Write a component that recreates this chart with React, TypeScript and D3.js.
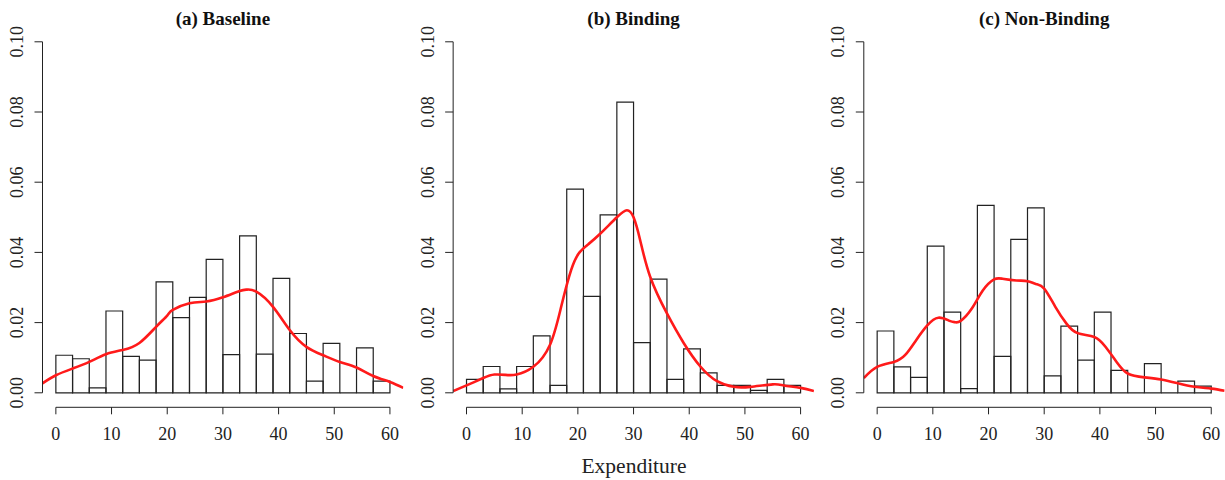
import React from 'react';
import * as d3 from 'd3';

// histogram bins: width 3, 0..60
const binStarts = d3.range(0, 60, 3);
const baselineHeights = [0.0107, 0.0097, 0.0014, 0.0233, 0.0104, 0.0093, 0.0316, 0.0214, 0.0272, 0.038,
  0.0109, 0.0447, 0.011, 0.0326, 0.0169, 0.0033, 0.0141, 0, 0.0128, 0.0033];
const bindingHeights = [0.0038, 0.0075, 0.0011, 0.0075, 0.0162, 0.0021, 0.058, 0.0275, 0.0507, 0.0828,
  0.0143, 0.0324, 0.0038, 0.0125, 0.0057, 0.0021, 0.0021, 0.0007, 0.0038, 0.0021];
const nonBindingHeights = [0.0176, 0.0074, 0.0044, 0.0418, 0.023, 0.0012, 0.0534, 0.0104, 0.0437, 0.0527,
  0.0048, 0.019, 0.0093, 0.023, 0.0064, 0, 0.0083, 0, 0.0033, 0.0019];

// kernel density estimates
const baselineDensX = [-2.4, 0, 3, 6, 9, 12, 15, 18, 20, 21, 24, 27, 30, 33, 34.3, 36, 39, 42, 45, 48, 51, 54, 57, 60, 62.4];
const baselineDensY = [0.0027, 0.005, 0.0069, 0.0088, 0.011, 0.0122, 0.0142, 0.0188, 0.022, 0.0236, 0.0255, 0.026, 0.0272,
  0.029, 0.0294, 0.0288, 0.0245, 0.0179, 0.0131, 0.0107, 0.0088, 0.0072, 0.0048, 0.0031, 0.0014];
const bindingDensX = [-2.4, 0, 3, 5, 7, 9, 12, 15, 17, 18.8, 20.3, 22, 24, 27, 28.8, 30, 31.2, 33, 36, 39, 42, 45, 48, 51, 55, 57, 60, 62.4];
const bindingDensY = [0.0005, 0.0021, 0.0042, 0.0052, 0.0051, 0.0052, 0.0074, 0.0137, 0.0245, 0.035, 0.04, 0.0425, 0.0453, 0.05,
  0.052, 0.05, 0.0434, 0.033, 0.0226, 0.0142, 0.0075, 0.0033, 0.0017, 0.0017, 0.0024, 0.0021, 0.0014, 0.0005];
const nonBindingDensX = [-2.4, 0, 3, 5, 7, 9, 11, 13, 14, 15, 17, 19, 21, 22.5, 25, 27, 28.5, 30, 32, 34, 36, 39, 41, 43, 45, 48, 51, 54, 57, 60, 62.4];
const nonBindingDensY = [0.0042, 0.0074, 0.0088, 0.0107, 0.015, 0.0192, 0.0214, 0.0205, 0.0201, 0.0205, 0.024, 0.0292, 0.0323, 0.0325,
  0.032, 0.0318, 0.031, 0.0297, 0.0245, 0.0197, 0.017, 0.0159, 0.0131, 0.0088, 0.0055, 0.0044, 0.0038, 0.0027, 0.0017, 0.0012, 0.0006];

const titles = ['(a) Baseline', '(b) Binding', '(c) Non-Binding'];
const xTicks = [0, 10, 20, 30, 40, 50, 60];
const yTicks = [0, 0.02, 0.04, 0.06, 0.08, 0.1];

const panels = [
  { title: titles[0], heights: baselineHeights, dx: baselineDensX, dy: baselineDensY },
  { title: titles[1], heights: bindingHeights, dx: bindingDensX, dy: bindingDensY },
  { title: titles[2], heights: nonBindingHeights, dx: nonBindingDensX, dy: nonBindingDensY },
];

const width = 1225;
const height = 480;
const panelStep = 410.65;
const font = '"Liberation Serif", "Times New Roman", serif';

const Panel = ({ p, i }) => {
  const left = 42.5 + i * panelStep;
  const x = d3.scaleLinear().domain([-2.4, 62.4]).range([left, left + 360.8]);
  const y = d3.scaleLinear().domain([0, 0.1]).range([392.8, 41.8]);
  const yBottom = 407.3;
  const yTop = 27.8;
  const line = d3.line<number>()
    .x((d, j) => x(p.dx[j]))
    .y(d => y(d))
    .curve(d3.curveNatural);
  const clipId = `clip-${i}`;

  // bars as closed outlines so empty bins still show a bottom edge
  const barPath = (b, h) => {
    const path = d3.path();
    path.moveTo(x(b), y(0));
    path.lineTo(x(b), y(h));
    path.lineTo(x(b + 3), y(h));
    path.lineTo(x(b + 3), y(0));
    path.closePath();
    return path.toString();
  };

  return (
    <g>
      <defs>
        <clipPath id={clipId}>
          <rect x={x(-2.4)} y={yTop} width={x(62.4) - x(-2.4)} height={yBottom - yTop} />
        </clipPath>
      </defs>
      <text x={x(30)} y={25} textAnchor='middle' fontFamily={font} fontWeight='bold' fontSize={19} fill='#111'>{p.title}</text>

      {/* histogram */}
      {binStarts.map((b, j) =>
        <path key={`bar-${j}`} d={barPath(b, p.heights[j])} fill='none' stroke='#222' strokeWidth={1.2} />
      )}

      {/* density */}
      <path d={line(p.dy)} fill='none' stroke='#ff1a1a' strokeWidth={2.6} clipPath={`url(#${clipId})`} />

      {/* y axis */}
      <line x1={left} x2={left} y1={y(0)} y2={y(0.1)} stroke='#222' strokeWidth={1} />
      {yTicks.map(t =>
        <g key={`yt-${t}`}>
          <line x1={left - 8} x2={left} y1={y(t)} y2={y(t)} stroke='#222' strokeWidth={1} />
          <text transform={`translate(${left - 19.5},${y(t)}) rotate(-90)`} textAnchor='middle' fontFamily={font} fontSize={18} fill='#222'>{t.toFixed(2)}</text>
        </g>
      )}

      {/* x axis */}
      <line x1={x(0)} x2={x(60)} y1={yBottom} y2={yBottom} stroke='#222' strokeWidth={1} />
      {xTicks.map(t =>
        <g key={`xt-${t}`}>
          <line x1={x(t)} x2={x(t)} y1={yBottom} y2={yBottom + 7} stroke='#222' strokeWidth={1} />
          <text x={x(t)} y={440} textAnchor='middle' fontFamily={font} fontSize={18} fill='#222'>{t}</text>
        </g>
      )}
    </g>
  );
};

const App = () => (
  <svg width={width} height={height} viewBox={`0 0 ${width} ${height}`}
    style={{ position: 'absolute', left: 0, top: 0, background: '#fff' }}>
    <rect x={0} y={0} width={width} height={height} fill='#fff' />
    {panels.map((p, i) => <Panel key={p.title} p={p} i={i} />)}
    <text x={634} y={473} textAnchor='middle' fontFamily={font} fontSize={21.5} fill='#222'>Expenditure</text>
  </svg>
);

export default App;
